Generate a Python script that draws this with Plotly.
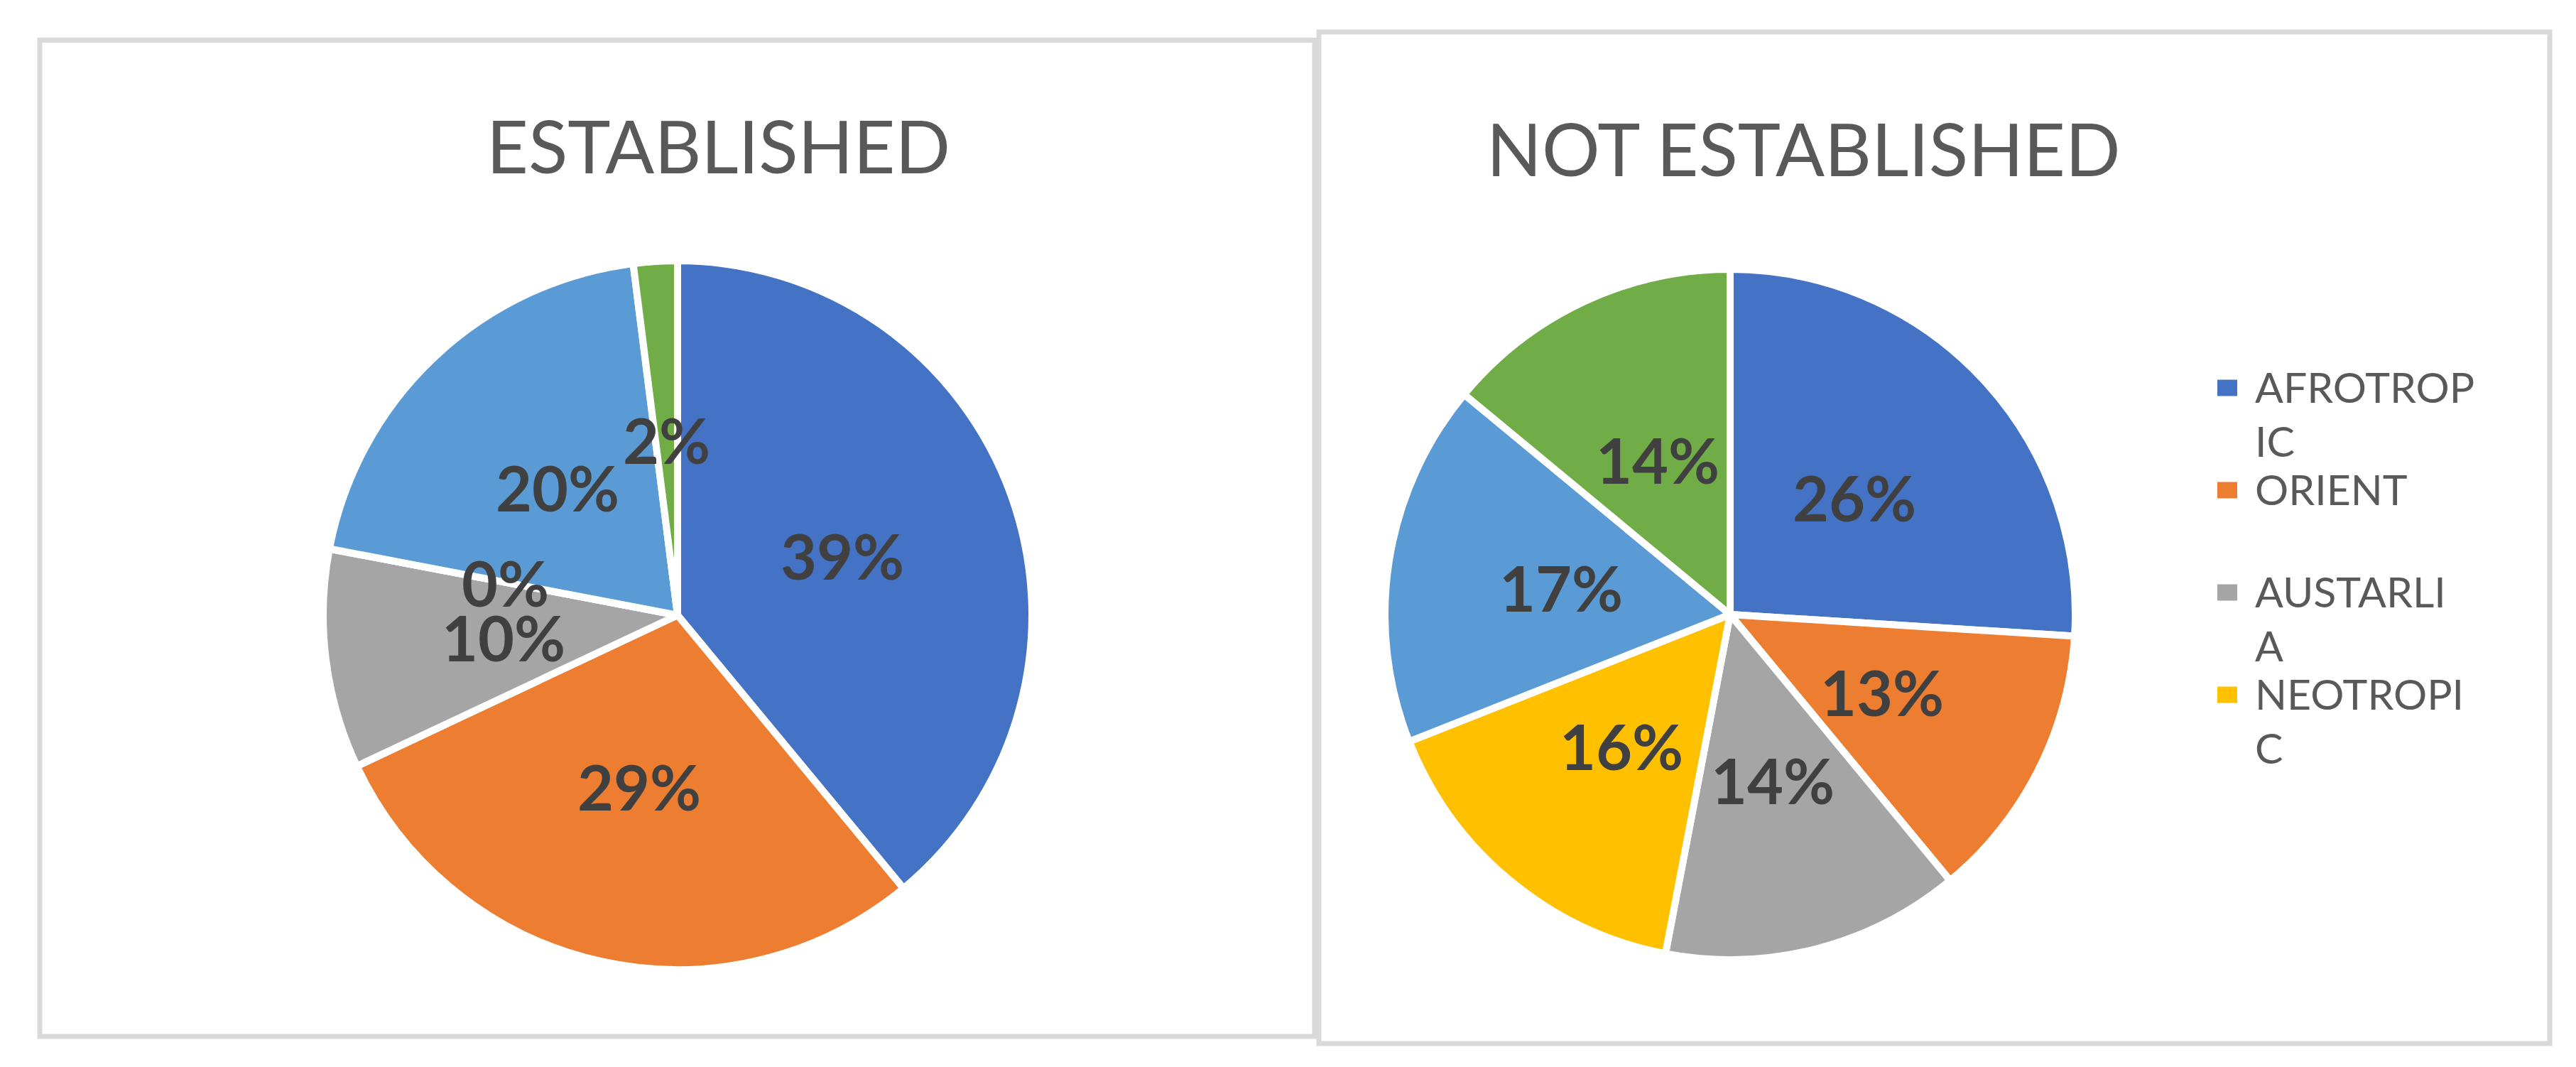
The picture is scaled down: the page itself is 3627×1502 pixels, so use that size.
import math
import plotly.graph_objects as go

W, H = 3627, 1502

# ---- data ----
categories = ["AFROTROPIC", "ORIENT", "AUSTARLIA", "NEOTROPIC", "NEARCTIC", "PALAEARCTIC"]
established = [39, 29, 10, 0, 20, 2]
not_established = [26, 13, 14, 16, 17, 14]
colors = ["#4472C4", "#ED7D31", "#A5A5A5", "#FFC000", "#5B9BD5", "#70AD47"]
titles = ["ESTABLISHED", "NOT ESTABLISHED"]
legend_lines = [("AFROTROP", "IC"), ("ORIENT", ""), ("AUSTARLI", "A"), ("NEOTROPI", "C")]

FONT = "Lato"


def px(x):
    return x / W


def py(y):
    return 1 - y / H


fig = go.Figure()
annotations = []
shapes = []

# panel geometry (pixels): pie centre, radius, title centre, frame
panels = [
    dict(values=established, cx=946, cy=858, R=499, tx=1003, ty=197,
         frame=(48, 48.5, 1843, 1451)),
    dict(values=not_established, cx=2428, cy=857, R=486, tx=2531, ty=200,
         frame=(1849, 37, 3582, 1461)),
]

for i, p in enumerate(panels):
    x0, y0, x1, y1 = p["frame"]
    shapes.append(dict(type="rect", xref="paper", yref="paper",
                       x0=px(x0), x1=px(x1), y0=py(y1), y1=py(y0),
                       line=dict(color="#D9D9D9", width=7), layer="below"))
    cx, cy, R = p["cx"], p["cy"], p["R"]
    fig.add_trace(go.Pie(
        labels=categories, values=p["values"], sort=False,
        direction="clockwise", rotation=0,
        marker=dict(colors=colors, line=dict(color="white", width=10)),
        textinfo="none", hoverinfo="label+percent", showlegend=False,
        domain=dict(x=[px(cx - R), px(cx + R)], y=[py(cy + R), py(cy - R)]),
    ))
    annotations.append(dict(text=titles[i], xref="paper", yref="paper",
                            x=px(p["tx"]), y=py(p["ty"]), xanchor="center",
                            yanchor="middle", showarrow=False,
                            font=dict(family=FONT, size=102, color="#595959")))
    # data labels at half radius along each slice's mid-angle
    total = sum(p["values"])
    cum = 0
    rv = (R - 5) * 0.5
    for v in p["values"]:
        theta = 2 * math.pi * (cum + v / 2) / total
        cum += v
        lx = cx + rv * math.sin(theta)
        ly = cy - rv * math.cos(theta)
        annotations.append(dict(text=f"{round(100 * v / total)}%", xref="paper", yref="paper",
                                x=px(lx), y=py(ly), xanchor="center", yanchor="middle",
                                showarrow=False,
                                font=dict(family=FONT, size=88, color="#404040", weight="bold")))

# legend (manual, as in the original where it is clipped to four entries)
for k, (l1, l2) in enumerate(legend_lines):
    yc = 538 + 144 * k
    shapes.append(dict(type="rect", xref="paper", yref="paper",
                       x0=px(3114), x1=px(3142), y0=py(yc + 11.5), y1=py(yc - 11.5),
                       fillcolor=colors[k], line=dict(width=0)))
    for j, t in enumerate((l1, l2)):
        if not t:
            continue
        annotations.append(dict(text=t, xref="paper", yref="paper",
                                x=px(3165), y=py(yc - 2 + 76 * j), xanchor="left",
                                yanchor="middle", showarrow=False,
                                font=dict(family=FONT, size=59, color="#595959")))

fig.update_layout(
    width=W, height=H, margin=dict(l=0, r=0, t=0, b=0),
    paper_bgcolor="white", plot_bgcolor="white",
    shapes=shapes, annotations=annotations,
)

fig.write_html("out.html")
